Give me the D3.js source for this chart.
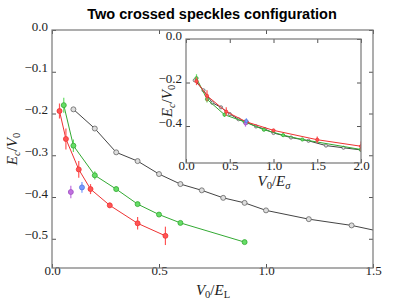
<!DOCTYPE html>
<html>
<head>
<meta charset="utf-8">
<script src="https://cdn.jsdelivr.net/npm/d3@7"></script>
<style>
  body { margin: 0; background: #fff; }
  svg { display: block; }
  .tick text { font-family: "Liberation Serif", serif; font-size: 13px; fill: #222; }
  .tick line { stroke: #555; }
  .lab { font-family: "Liberation Serif", serif; font-size: 15px; font-style: italic; fill: #222; }
</style>
</head>
<body>
<div id="chart"></div>
<script>
// gray series (same x in both panels)
var grayX = [0.1, 0.2, 0.3, 0.4, 0.5, 0.6, 0.7, 0.8, 0.9, 1.0, 1.2, 1.4, 1.6, 1.8, 2.0];
var grayY = [-0.19, -0.236, -0.293, -0.314, -0.345, -0.369, -0.384, -0.402, -0.414, -0.432, -0.453, -0.468, -0.49, -0.50, -0.51];

// green series
var greenX = [0.055, 0.1, 0.2, 0.3, 0.4, 0.5, 0.6, 0.9];
var greenXs = [0.12, 0.24, 0.44, 0.67, 0.89, 1.11, 1.33, 2.0];
var greenY = [-0.18, -0.277, -0.348, -0.381, -0.417, -0.442, -0.462, -0.508];
var greenErr = [0.018, 0.015, 0.01, 0.006, 0.005, 0.004, 0.004, 0.004];

// red series
var redX = [0.035, 0.065, 0.125, 0.18, 0.27, 0.40, 0.53];
var redXs = [0.12, 0.24, 0.46, 0.69, 1.0, 1.5, 2.0];
var redY = [-0.194, -0.261, -0.334, -0.381, -0.42, -0.463, -0.493];
var redErr = [0.018, 0.025, 0.02, 0.012, 0.006, 0.015, 0.022];

// single points
var purpleX = [0.088], purpleXs = [0.68], purpleY = [-0.388], purpleErr = [0.015];
var blueX = [0.14], blueXs = [0.69], blueY = [-0.377], blueErr = [0.013];

var mainXTicks = [0, 0.5, 1.0, 1.5];
var mainYTicks = [0, -0.1, -0.2, -0.3, -0.4, -0.5];
var insetXTicks = [0, 0.5, 1.0, 1.5, 2.0];
var insetYTicks = [0, -0.2, -0.4];

var W = 415, H = 299;
var svg = d3.select('#chart').append('svg').attr('width', W).attr('height', H);

svg.append('text')
  .attr('x', 212).attr('y', 19)
  .attr('text-anchor', 'middle')
  .style('font-family', '"Liberation Sans", Arial, sans-serif')
  .style('font-weight', 'bold')
  .style('font-size', '14.5px')
  .text('Two crossed speckles configuration');

function zip(xs, ys, es) {
  return xs.map(function(x, i) { return { x: x, y: ys[i], e: es ? es[i] : 0 }; });
}

function panel(opts) {
  var x = d3.scaleLinear().domain(opts.xdom).range([opts.l, opts.r]);
  var y = d3.scaleLinear().domain([-0.57, 0]).range([opts.b, opts.t]);
  var g = svg.append('g');

  g.append('rect')
    .attr('x', opts.l).attr('y', opts.t)
    .attr('width', opts.r - opts.l).attr('height', opts.b - opts.t)
    .attr('fill', '#fff');

  var clipId = 'clip' + opts.id;
  g.append('clipPath').attr('id', clipId).append('rect')
    .attr('x', opts.l).attr('y', opts.t)
    .attr('width', opts.r - opts.l).attr('height', opts.b - opts.t);

  var plot = g.append('g').attr('clip-path', 'url(#' + clipId + ')');
  var line = d3.line().x(function(d) { return x(d.x); }).y(function(d) { return y(d.y); });

  opts.series.forEach(function(s) {
    var data = zip(s.x, s.y, s.e);
    if (data.length > 1) {
      plot.append('path').datum(data)
        .attr('d', line)
        .attr('fill', 'none')
        .attr('stroke', s.line)
        .attr('stroke-width', opts.lw);
    }
    if (s.e) {
      plot.selectAll(null).data(data).enter().append('line')
        .attr('x1', function(d) { return x(d.x); })
        .attr('x2', function(d) { return x(d.x); })
        .attr('y1', function(d) { return y(d.y - d.e); })
        .attr('y2', function(d) { return y(d.y + d.e); })
        .attr('stroke', s.fill)
        .attr('stroke-width', 1.2);
    }
    plot.selectAll(null).data(data).enter().append('circle')
      .attr('cx', function(d) { return x(d.x); })
      .attr('cy', function(d) { return y(d.y); })
      .attr('r', opts.mr)
      .attr('fill', s.fill)
      .attr('stroke', s.edge)
      .attr('stroke-width', 0.8);
  });

  // axes, ticks inward on all sides
  var pad = 7;
  g.append('g').attr('transform', 'translate(0,' + opts.b + ')')
    .call(d3.axisBottom(x).tickValues(opts.xticks).tickFormat(d3.format('.1f')).tickSize(-4).tickPadding(pad));
  g.append('g').attr('transform', 'translate(0,' + opts.t + ')')
    .call(d3.axisTop(x).tickValues(opts.xticks).tickFormat('').tickSize(-4));
  g.append('g').attr('transform', 'translate(' + opts.l + ',0)')
    .call(d3.axisLeft(y).tickValues(opts.yticks).tickFormat(d3.format('.1f')).tickSize(-4).tickPadding(4));
  g.append('g').attr('transform', 'translate(' + opts.r + ',0)')
    .call(d3.axisRight(y).tickValues(opts.yticks).tickFormat('').tickSize(-4));
  g.selectAll('.domain').remove();
  g.selectAll('.tick text').attr('dy', null);
  g.selectAll('.tick line').attr('stroke', '#666');

  g.append('rect')
    .attr('x', opts.l).attr('y', opts.t)
    .attr('width', opts.r - opts.l).attr('height', opts.b - opts.t)
    .attr('fill', 'none')
    .attr('stroke', '#777')
    .attr('stroke-width', 1.2);

  return { x: x, y: y, g: g };
}

var colors = {
  gray: { line: '#444', fill: '#ddd', edge: '#666' },
  green: { line: '#33aa33', fill: '#66dd66', edge: '#33aa33' },
  red: { line: '#ee3333', fill: '#ff5555', edge: '#ee3333' },
  purple: { fill: '#c070e0', edge: '#a050c0' },
  blue: { fill: '#7799ff', edge: '#5577dd' }
};

function ser(c, xs, ys, es) {
  return { x: xs, y: ys, e: es, line: c.line, fill: c.fill, edge: c.edge };
}

var main = panel({
  id: 'main', l: 52, r: 373, t: 30, b: 268, xdom: [0, 1.5],
  xticks: mainXTicks, yticks: mainYTicks, lw: 1, mr: 2.5,
  series: [
    ser(colors.gray, grayX, grayY, null),
    ser(colors.green, greenX, greenY, greenErr),
    ser(colors.red, redX, redY, redErr),
    ser(colors.purple, purpleX, purpleY, purpleErr),
    ser(colors.blue, blueX, blueY, blueErr)
  ]
});

var inset = panel({
  id: 'inset', l: 186, r: 361, t: 39, b: 163, xdom: [0, 2.0],
  xticks: insetXTicks, yticks: insetYTicks, lw: 1, mr: 1.6,
  series: [
    ser(colors.gray, grayX, grayY, null),
    ser(colors.green, greenXs, greenY, greenErr),
    ser(colors.red, redXs, redY, redErr),
    ser(colors.purple, purpleXs, purpleY, purpleErr),
    ser(colors.blue, blueXs, blueY, blueErr)
  ]
});

// axis labels with subscripts
function label(x, y, rotate, parts) {
  var t = svg.append('text').attr('class', 'lab')
    .attr('text-anchor', 'middle')
    .attr('transform', 'translate(' + x + ',' + y + ')' + (rotate ? ' rotate(-90)' : ''));
  parts.forEach(function(p) {
    var ts = t.append('tspan').text(p[0]);
    if (p[1] === 'sub') ts.attr('baseline-shift', '-25%').style('font-size', '10.5px');
    if (p[2] === 'roman') ts.style('font-style', 'normal');
  });
}

label(17, 149, true, [['E'], ['c', 'sub'], ['/', 0, 'roman'], ['V'], ['0', 'sub', 'roman']]);
label(213, 295, false, [['V'], ['0', 'sub', 'roman'], ['/', 0, 'roman'], ['E'], ['L', 'sub', 'roman']]);
label(172, 101, true, [['E'], ['c', 'sub'], ['/', 0, 'roman'], ['V'], ['0', 'sub', 'roman']]);
label(274, 186, false, [['V'], ['0', 'sub', 'roman'], ['/', 0, 'roman'], ['E'], ['σ', 'sub']]);
</script>
</body>
</html>
